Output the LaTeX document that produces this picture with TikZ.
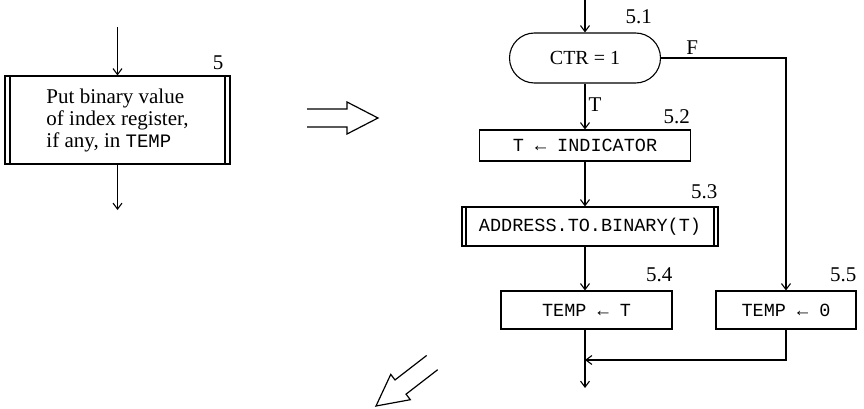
\documentclass[tikz,border=0pt]{standalone}
\usepackage{fontspec}
\setmainfont{Liberation Serif}
\setmonofont{Liberation Mono}
\usetikzlibrary{positioning,arrows.meta,calc,shapes.misc}
\tikzset{
  box/.style={draw, line width=1.1pt, inner sep=0pt, align=center, font=\fontsize{18.5}{22}\selectfont\ttfamily},
  subbox/.style={box, path picture={
      \draw[line width=1.1pt] ([xshift=#1]path picture bounding box.north west) -- ([xshift=#1]path picture bounding box.south west);
      \draw[line width=1.1pt] ([xshift=-#1]path picture bounding box.north east) -- ([xshift=-#1]path picture bounding box.south east);}},
  stadium/.style={box, rounded rectangle, font=\fontsize{20}{22}\selectfont},
  arrow/.style={-{Straight Barb[length=6pt,width=9pt,line width=1.1pt]}, line width=1.1pt},
  hollow/.style={line width=1.2pt, line join=miter},
  num/.style={font=\fontsize{21}{22}\selectfont, inner sep=0pt, anchor=south east},
  tf/.style={font=\fontsize{21}{22}\selectfont, inner sep=3pt}
}
\begin{document}
\begin{tikzpicture}[x=1pt, y=-1pt]
        \useasboundingbox (0,0) rectangle (864,409);
        % coarse step
        \node[subbox=5pt, minimum width=225pt, minimum height=88pt, align=left, font=\fontsize{21}{22}\selectfont] (put) at (117.5,120)
          {Put binary value\\of index register,\\if any, in {\fontsize{19}{22}\selectfont\texttt{TEMP}}};
        \node[num] at ([xshift=-7pt,yshift=6pt]put.north east) {5};
        \coordinate (putin) at (put.north |- 0,27);
        \coordinate (putout) at (put.south |- 0,210);
        \draw[arrow] (putin) -- (put.north);
        \draw[arrow] (put.south) -- (putout);
        % refinement arrows
        \draw[hollow] (307,109) -- (347,109) -- (347,102) -- (378,118) -- (347,134) -- (347,127) -- (307,127);
        \begin{scope}[shift={(376,406)}, rotate=217.7]
          \draw[hollow] (-71,9) -- (-31,9) -- (-31,16) -- (0,0) -- (-31,-16) -- (-31,-9) -- (-71,-9);
        \end{scope}
        % refined steps
        \node[stadium, minimum width=151pt, minimum height=50pt] (ctr) at (585,58) {CTR = 1};
        \node[box, minimum width=211pt, minimum height=31pt] (ind) at (585,145.5) {T ← INDICATOR};
        \node[subbox=4pt, minimum width=256pt, minimum height=39pt] (adr) at (590,226.5) {ADDRESS.TO.BINARY(T)};
        \node[box, minimum width=171pt, minimum height=38pt] (tmpt) at (586.5,310) {TEMP ← T};
        \node[box, minimum width=140pt, minimum height=38pt] (tmpo) at (786,310) {TEMP ← 0};
        \node[num] at ([xshift=-9pt,yshift=8pt]ctr.north -| ctr.east) {5.1};
        \node[num] at ([xshift=-1pt,yshift=5pt]ind.north east) {5.2};
        \node[num] at ([xshift=-1pt,yshift=7pt]adr.north east) {5.3};
        \node[num] at ([xshift=0pt,yshift=8pt]tmpt.north east) {5.4};
        \node[num] at ([xshift=0pt,yshift=8pt]tmpo.north east) {5.5};
        \coordinate (entry) at (ctr.north |- 0,0);
        \coordinate (join) at (ctr.south |- 0,360);
        \coordinate (exit) at (ctr.south |- 0,388);
        \draw[arrow] (entry) -- (ctr.north);
        \draw[arrow] (ctr.south) -- node[tf, right, pos=0.45] {T} (ctr.south |- ind.north);
        \draw[arrow] (ind.south) -- (ind.south |- adr.north);
        \draw[arrow] (adr.south -| ind.south) -- (ind.south |- tmpt.north);
        \draw[arrow] (ctr.east) -- node[tf, above, pos=0.25] {F} (tmpo.north |- ctr.east) -- (tmpo.north);
        \draw[arrow] (tmpt.south -| ctr.south) -- (exit);
        \draw[arrow] (tmpo.south) |- (join);
      \end{tikzpicture}
\end{document}
